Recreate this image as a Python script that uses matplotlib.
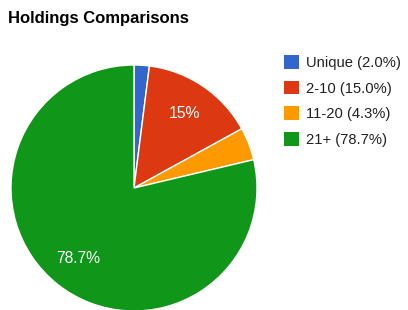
import matplotlib
matplotlib.use('Agg')
import matplotlib.pyplot as plt
from matplotlib.patches import Patch
import numpy as np

# holdings data
categories = ['Unique', '2-10', '11-20', '21+']
shares = [2.0, 15.0, 4.3, 78.7]
slice_labels = ['', '15%', '', '78.7%']
colors = ['#3366cc', '#dc3912', '#ff9900', '#109618']

plt.rcParams['font.family'] = ['Liberation Sans', 'DejaVu Sans']

fig = plt.figure(figsize=(4.08, 3.10), dpi=100)
ax = fig.add_axes([11/408, -1/310, 246/408, 246/310])

wedges, _ = ax.pie(shares, colors=colors, startangle=90, counterclock=False,
                   wedgeprops=dict(edgecolor='white', linewidth=1))
ax.set_xlim(-1, 1)
ax.set_ylim(-1, 1)
ax.set_aspect('equal')

# slice labels (only the big slices, like google charts)
ang = 90.0
for w, lab, s in zip(wedges, slice_labels, shares):
    mid = ang - s * 3.6 / 2
    ang -= s * 3.6
    if lab:
        r = 0.73
        ax.text(r * np.cos(np.radians(mid)), r * np.sin(np.radians(mid)), lab,
                ha='center', va='center', color='white', fontsize=11.3)

fig.text(8/408, 1 - 18/310, 'Holdings Comparisons', fontsize=12,
         fontweight='bold', va='center', ha='left')

handles = [Patch(facecolor=c, edgecolor='none') for c in colors]
legend_labels = ['%s (%.1f%%)' % (c, s) for c, s in zip(categories, shares)]
fig.legend(handles, legend_labels, loc='upper left',
           bbox_to_anchor=(281/408, 1 - 52/310), frameon=False,
           fontsize=10.6, handlelength=1.05, handleheight=1.05,
           handletextpad=0.45, labelspacing=0.74, borderaxespad=0,
           borderpad=0.2, labelcolor='#222222')

fig.savefig('out.png', dpi=100)
